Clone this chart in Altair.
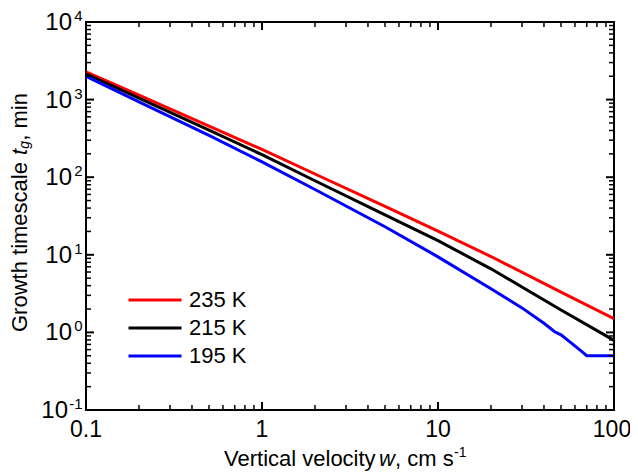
import altair as alt
import pandas as pd

FONT = "Liberation Sans, Arial, sans-serif"

# ---- data ----
series = ["235 K", "215 K", "195 K"]
colors = ["#ff0000", "#000000", "#0000ff"]

w_235 = [0.1, 0.2, 0.5, 1, 2, 5, 10, 20, 50, 100]
tg_235 = [2280, 1140, 455, 228, 110, 42, 20.2, 9.5, 3.3, 1.5]

w_215 = [0.1, 0.2, 0.5, 1, 2, 5, 10, 20, 50, 100]
tg_215 = [2150, 1045, 403, 195, 90, 32.7, 15.2, 6.6, 1.94, 0.79]

w_195 = [0.1, 0.2, 0.5, 1, 2, 5, 10, 20, 30, 40, 46, 50, 58, 66, 70, 100]
tg_195 = [1995, 937, 345, 158, 69.5, 23, 9.4, 3.66, 2.07, 1.31, 1.02, 0.93, 0.71, 0.56, 0.50, 0.50]

x_major = [0.1, 1, 10, 100]
x_labels = ["0.1", "1", "10", "100"]
x_minor = [m * d for d in [0.1, 1, 10] for m in range(2, 10)]

y_major = [0.1, 1, 10, 100, 1000, 10000]
y_exponents = ["-1", "0", "1", "2", "3", "4"]
y_minor = [m * d for d in [0.1, 1, 10, 100, 1000] for m in range(2, 10)]

W, H = 528, 388

xs = alt.Scale(type="log", domain=[0.1, 100], nice=False)
ys = alt.Scale(type="log", domain=[0.1, 10000], nice=False)

df_lines = pd.concat([
    pd.DataFrame({"w": w_235, "tg": tg_235, "series": series[0]}),
    pd.DataFrame({"w": w_215, "tg": tg_215, "series": series[1]}),
    pd.DataFrame({"w": w_195, "tg": tg_195, "series": series[2]}),
])

lines = alt.Chart(df_lines).mark_line(strokeWidth=3, clip=True).encode(
    x=alt.X("w:Q", scale=xs, axis=None),
    y=alt.Y("tg:Q", scale=ys, axis=None),
    color=alt.Color(
        "series:N",
        scale=alt.Scale(domain=series, range=colors),
        sort=series,
        legend=alt.Legend(
            title=None, orient="none", legendX=41, legendY=264,
            symbolType="stroke", symbolSize=2809, symbolStrokeWidth=3,
            clipHeight=28, rowPadding=0, padding=0,
            labelFontSize=22, labelFont=FONT, labelColor="black", labelOffset=6,
        ),
    ),
)


def xticks(vals, y0, y1, sw):
    return alt.Chart(pd.DataFrame({"w": vals})).mark_rule(color="black", strokeWidth=sw).encode(
        x=alt.X("w:Q", scale=xs, axis=None), y=alt.value(y0), y2=alt.value(y1))


def yticks(vals, x0, x1, sw):
    return alt.Chart(pd.DataFrame({"tg": vals})).mark_rule(color="black", strokeWidth=sw).encode(
        y=alt.Y("tg:Q", scale=ys, axis=None), x=alt.value(x0), x2=alt.value(x1))


ticks = [
    xticks(x_major, H, H - 8, 2), xticks(x_minor, H, H - 5, 1.5),
    xticks(x_major, 0, 8, 2), xticks(x_minor, 0, 5, 1.5),
    yticks(y_major, 0, 8, 2), yticks(y_minor, 0, 5, 1.5),
    yticks(y_major, W, W - 8, 2), yticks(y_minor, W, W - 5, 1.5),
]

# x tick labels (the last one nudged so it stays inside the page)
xlab_df = pd.DataFrame({"w": x_major, "lab": x_labels})
xlab_a = alt.Chart(xlab_df).transform_filter("datum.w < 50").mark_text(
    font=FONT, fontSize=23, baseline="alphabetic", align="center", color="black"
).encode(x=alt.X("w:Q", scale=xs, axis=None), y=alt.value(415), text="lab:N")
xlab_b = alt.Chart(xlab_df).transform_filter("datum.w > 50").mark_text(
    font=FONT, fontSize=23, baseline="alphabetic", align="center", color="black", dx=-2
).encode(x=alt.X("w:Q", scale=xs, axis=None), y=alt.value(415), text="lab:N")

# y tick labels: "10" with superscript exponent
ylab_df = pd.DataFrame({"tg": y_major, "exp": y_exponents})
ten_a = alt.Chart(ylab_df).transform_filter("datum.exp != '-1'").mark_text(
    text="10", font=FONT, fontSize=24, align="right", baseline="middle", dy=1, color="black"
).encode(y=alt.Y("tg:Q", scale=ys, axis=None), x=alt.value(-14))
ten_b = alt.Chart(ylab_df).transform_filter("datum.exp == '-1'").mark_text(
    text="10", font=FONT, fontSize=24, align="right", baseline="middle", dy=1, color="black"
).encode(y=alt.Y("tg:Q", scale=ys, axis=None), x=alt.value(-18))
expo = alt.Chart(ylab_df).mark_text(
    font=FONT, fontSize=15, align="right", baseline="middle", dy=-6, color="black"
).encode(y=alt.Y("tg:Q", scale=ys, axis=None), x=alt.value(-3.5), text="exp:N")


def txt(s, x, y, size=22, style="normal", angle=0, align="left", baseline="alphabetic"):
    return alt.Chart(pd.DataFrame({"t": [s]})).mark_text(
        font=FONT, fontSize=size, fontStyle=style, angle=angle, align=align,
        baseline=baseline, color="black"
    ).encode(text="t:N", x=alt.value(x), y=alt.value(y))


# x-axis title: Vertical velocity w, cm s^-1
xt0 = 138
xtitle = [
    txt("Vertical velocity", xt0, 444),
    txt("w", xt0 + 155, 444, style="italic"),
    txt(", cm s", xt0 + 171, 444),
    txt("-1", xt0 + 230, 435, size=14),
]

# y-axis title: Growth timescale t_g, min (rotated)
yt0 = 310
ytx = -66
ytitle = [
    txt("Growth timescale", ytx, yt0, angle=270, baseline="middle"),
    txt("t", ytx, yt0 - 177.0, style="italic", angle=270, baseline="middle"),
    txt("g", ytx + 5, yt0 - 183.3, size=14, style="italic", angle=270, baseline="middle"),
    txt(", min", ytx, yt0 - 191.3, angle=270, baseline="middle"),
]

chart = alt.layer(
    lines, *ticks, xlab_a, xlab_b, ten_a, ten_b, expo, *xtitle, *ytitle
).properties(
    width=W, height=H,
    autosize=alt.AutoSizeParams(type="none"),
    padding={"left": 78, "top": 14, "right": 16, "bottom": 63},
    background="white",
).configure_view(stroke="black", strokeWidth=2)

chart.save("out.html", embed_options={"renderer": "svg", "actions": False})
